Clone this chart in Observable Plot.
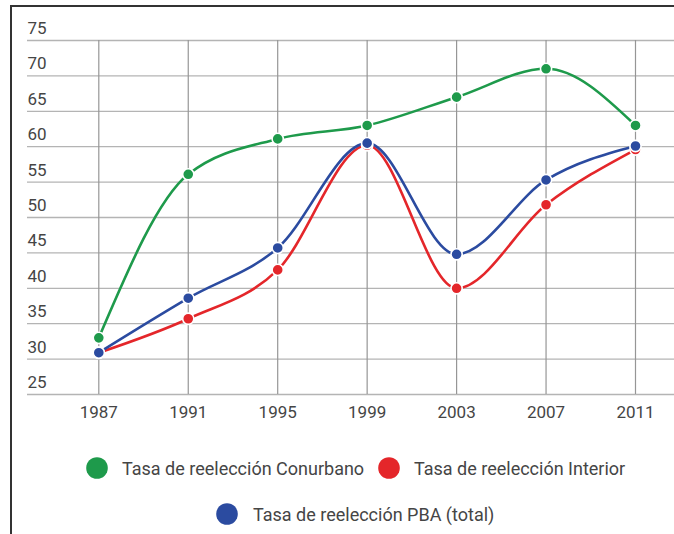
<!DOCTYPE html>
<html>
<head>
<meta charset="utf-8">
<script src="https://cdn.jsdelivr.net/npm/d3@7"></script>
<script src="https://cdn.jsdelivr.net/npm/@observablehq/plot@0.6"></script>
<style>
  html, body { margin: 0; padding: 0; background: #fff; }
  body { width: 674px; height: 534px; position: relative; overflow: hidden; font-family: Roboto, sans-serif; }
  #frame { position: absolute; left: 10px; top: 5px; width: 680px; height: 560px; border-top: 2px solid #333; border-left: 2px solid #333; }
  #chart { position: absolute; left: 0; top: 0; }
  #legend { position: absolute; left: 0; top: 430px; }
</style>
</head>
<body>
<div id="frame"></div>
<div id="chart"></div>
<div id="legend"></div>
<script>
const years = [1987, 1991, 1995, 1999, 2003, 2007, 2011];
const conurbano = [33.0, 56.1, 61.1, 63.0, 67.0, 71.0, 63.0];
const interior = [30.9, 35.7, 42.6, 60.2, 40.0, 51.8, 59.6];
const pba = [30.9, 38.6, 45.7, 60.5, 44.8, 55.3, 60.1];
const seriesNames = ["Tasa de reelección Conurbano", "Tasa de reelección Interior", "Tasa de reelección PBA (total)"];
const seriesColors = ["#1e9a4b", "#e4262a", "#2b4ba0"];
const yTicks = [25, 30, 35, 40, 45, 50, 55, 60, 65, 70, 75];

const seriesValues = [conurbano, interior, pba];
const rows = seriesValues.flatMap((vals, i) =>
  years.map((yr, j) => ({ year: yr, value: vals[j], series: seriesNames[i] }))
);

const chart = Plot.plot({
  width: 674,
  height: 430,
  marginLeft: 27,
  marginRight: 0,
  marginTop: 40,
  marginBottom: 36,
  style: { fontFamily: "Roboto, sans-serif", background: "transparent" },
  x: { domain: [1987, 2011], range: [98.3, 635], axis: null },
  y: { domain: [25, 75], axis: null },
  color: { domain: seriesNames, range: seriesColors },
  marks: [
    Plot.ruleY(yTicks, { stroke: "#b4b4b4", strokeWidth: 1.3 }),
    Plot.ruleX(years, { y1: 25, y2: 75, stroke: "#969696", strokeWidth: 1.2 }),
    Plot.text(yTicks, { y: d => d, text: d => String(d), frameAnchor: "left", textAnchor: "start", dy: -12, fontSize: 17, fill: "#454545" }),
    Plot.text(years, { x: d => d, y: 25, text: d => String(d), dy: 18, fontSize: 17, fill: "#454545" }),
    Plot.line(rows, { x: "year", y: "value", z: "series", stroke: "series", strokeWidth: 2.6, curve: "monotone-x" }),
    Plot.dot(rows, { x: "year", y: "value", fill: "series", r: 5.6, stroke: "white", strokeWidth: 1.6 })
  ]
});
document.getElementById("chart").appendChild(chart);

// Legend
const legendLayout = [
  { cx: 97, cy: 468, tx: 122, base: 474.5 },
  { cx: 389, cy: 468, tx: 414, base: 474.5 },
  { cx: 227, cy: 514, tx: 253, base: 520.5 }
];
const lg = d3.select("#legend").append("svg")
  .attr("width", 674).attr("height", 104)
  .attr("viewBox", "0 430 674 104");
seriesNames.forEach((name, i) => {
  const L = legendLayout[i];
  lg.append("circle").attr("cx", L.cx).attr("cy", L.cy).attr("r", 10.8).attr("fill", seriesColors[i]);
  lg.append("text").attr("x", L.tx).attr("y", L.base)
    .attr("font-family", "Roboto, sans-serif").attr("font-size", 18).attr("fill", "#454545")
    .text(name);
});
</script>
</body>
</html>
